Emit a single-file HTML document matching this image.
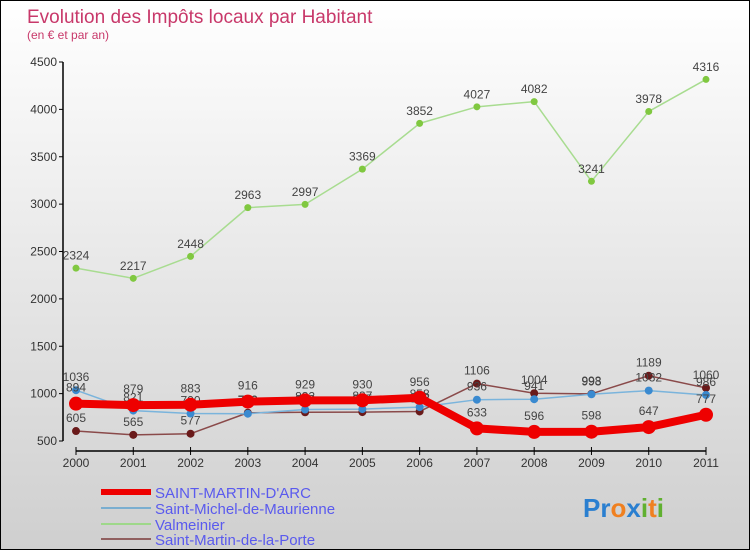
<!DOCTYPE html>
<html><head><meta charset="utf-8"><style>
body{margin:0;}
#c{width:748px;height:548px;border:1px solid #000;background:linear-gradient(#ffffff,#cfcfcf);position:relative;font-family:"Liberation Sans",sans-serif;overflow:hidden}
</style></head><body>
<div id="c">
<svg id="s" width="748" height="548" xmlns="http://www.w3.org/2000/svg">
<text x="26" y="22" font-size="19" fill="#c8386a">Evolution des Impôts locaux par Habitant</text>
<text x="26" y="38" font-size="12" fill="#c8386a">(en € et par an)</text>
<g id="axes"></g><g id="series"></g>
<g>
<line x1="100" y1="491" x2="150" y2="491" stroke="#ee0000" stroke-width="6"/>
<text x="154" y="497" font-size="15" fill="#5a5aee">SAINT-MARTIN-D'ARC</text>
<line x1="100" y1="507" x2="150" y2="507" stroke="#7aaed0" stroke-width="2"/>
<text x="154" y="513" font-size="15" fill="#5a5aee">Saint-Michel-de-Maurienne</text>
<line x1="100" y1="523" x2="150" y2="523" stroke="#9ed88a" stroke-width="2"/>
<text x="154" y="529" font-size="15" fill="#5a5aee">Valmeinier</text>
<line x1="100" y1="538" x2="150" y2="538" stroke="#906060" stroke-width="2"/>
<text x="154" y="544" font-size="15" fill="#5a5aee">Saint-Martin-de-la-Porte</text>
</g>
<text x="582" y="516" font-size="26" font-weight="bold"><tspan fill="#2a7fd0">Pr</tspan><tspan fill="#f08020">o</tspan><tspan fill="#2a7fd0">x</tspan><tspan fill="#60b030">i</tspan><tspan fill="#f08020">t</tspan><tspan fill="#60b030">i</tspan></text>
</svg></div>
<script>
const years=[2000,2001,2002,2003,2004,2005,2006,2007,2008,2009,2010,2011];
const yTicks=[500,1000,1500,2000,2500,3000,3500,4000,4500];
const smaValues=[894,879,883,916,929,930,956,633,596,598,647,777];
const michelValues=[1036,821,790,788,832,837,858,936,941,993,1032,986];
const valmeinierValues=[2324,2217,2448,2963,2997,3369,3852,4027,4082,3241,3978,4316];
const porteValues=[605,565,577,798,803,805,812,1106,1004,998,1189,1060];
const NS="http://www.w3.org/2000/svg";
function X(i){return 75+i*(630/11);}
function Y(v){return 440-(v-500)*(379/4000);}
function mk(t,a,p){const e=document.createElementNS(NS,t);for(const k in a)e.setAttribute(k,a[k]);p.appendChild(e);return e;}
const ax=document.getElementById('axes'),sr=document.getElementById('series');
const yl=mk('line',{x1:62,y1:Y(4500),x2:62,y2:Y(500),stroke:'#000','stroke-width':1.5},ax);


yTicks.forEach(v=>{
 mk('line',{x1:58,y1:Y(v),x2:62,y2:Y(v),stroke:'#000'},ax);
 const t=mk('text',{x:56,y:Y(v)+4,'font-size':12,fill:'#333','text-anchor':'end'},ax);
 t.textContent=v;
 
 
});
const xl=mk('line',{x1:X(0),y1:450,x2:X(11),y2:450,stroke:'#000','stroke-width':1.5},ax);


years.forEach((y,i)=>{
 mk('line',{x1:X(i),y1:446,x2:X(i),y2:454,stroke:'#000'},ax);
 const t=mk('text',{x:X(i),y:466,'font-size':12,fill:'#333','text-anchor':'middle'},ax);
 t.textContent=y;
 
 
});
function draw(vals,name,color,w,r,dot){
 const g=mk('g',{},sr);
 
 
 const p=mk('polyline',{points:vals.map((v,i)=>X(i)+','+Y(v)).join(' '),fill:'none',stroke:color,'stroke-width':w,'stroke-linejoin':'round'},g);
 
 
 vals.forEach((v,i)=>{
  const c=mk('circle',{cx:X(i),cy:Y(v),r:r,fill:dot},g);
  
  
  const t=mk('text',{x:X(i),y:Y(v)-(r+5),'font-size':12,fill:'#444','text-anchor':'middle'},g);
  t.textContent=v;
  
  
 });
}
draw(valmeinierValues,'valmeinier','#a8dc90',1.5,3.5,'#80c840');
draw(porteValues,'saint-martin-de-la-porte','#8a4a4a',1.5,4,'#6a1a1a');
draw(michelValues,'saint-michel-de-maurienne','#7ab4dc',1.5,4,'#3a8ad0');
draw(smaValues,'saint-martin-d-arc','#ee0000',8,7,'#ee0000');
</script>
</body></html>
